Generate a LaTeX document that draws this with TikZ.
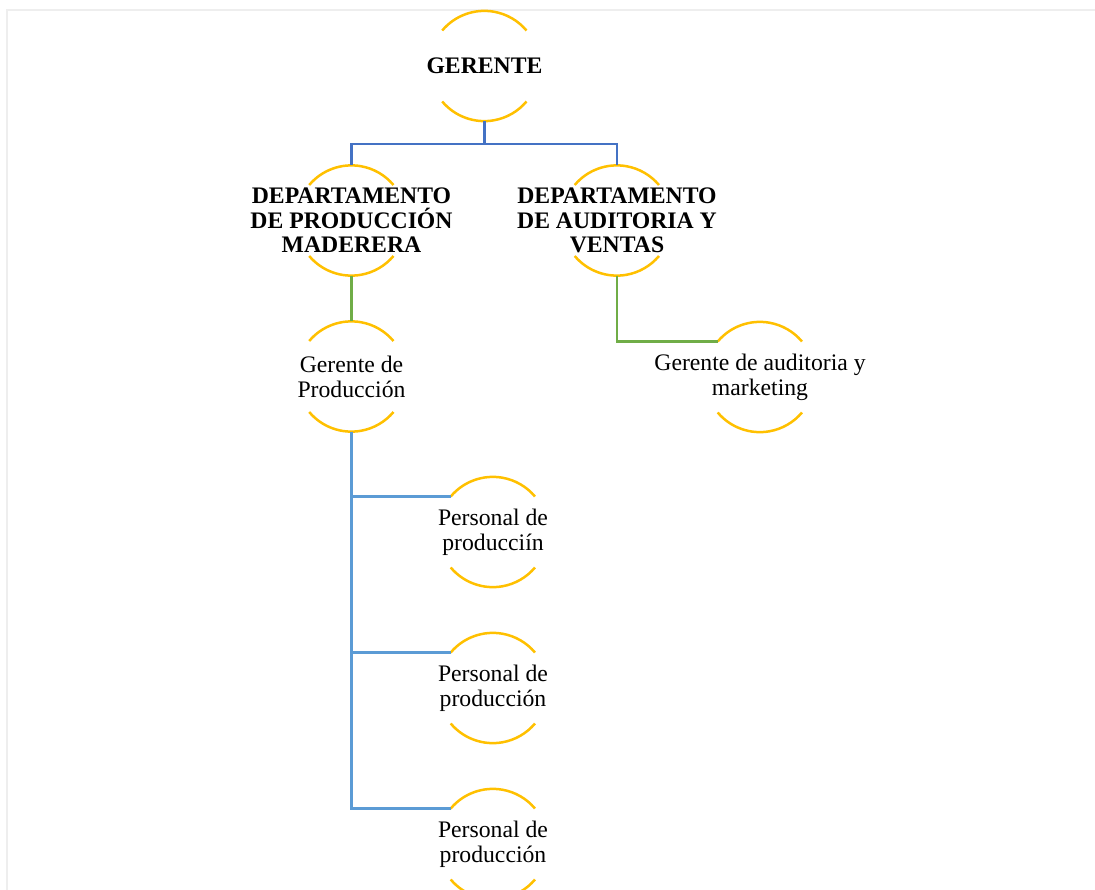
\documentclass[tikz,border=0pt]{standalone}
\usepackage{fontspec}
\setmainfont{Liberation Serif}
\definecolor{gold}{HTML}{FFC000}
\definecolor{darkblue}{HTML}{4472C4}
\definecolor{lightblue}{HTML}{5B9BD5}
\definecolor{leafgreen}{HTML}{70AD47}
\definecolor{framegray}{HTML}{EEEEEE}
\begin{document}
\begin{tikzpicture}[x=1bp,y=1bp,
  ring/.style={circle, minimum size=110bp, inner sep=0pt, draw=none},
  txt/.style={align=center, inner sep=0pt, font=\fontsize{23.7bp}{24.8bp}\selectfont},
  btxt/.style={txt, font=\fontsize{23.7bp}{24.6bp}\selectfont\bfseries},
  arcline/.style={draw=gold, line width=2.5bp},
  topline/.style={draw=darkblue, line width=2.5bp},
  prodline/.style={draw=lightblue, line width=2.5bp},
  greenline/.style={draw=leafgreen, line width=2.5bp},
  framel/.style={draw=framegray, line width=2bp}]
\useasboundingbox (0,0) rectangle (1095,-890);
\draw[framel] (7,-890) -- (7,-10) -- (1095,-10);

% circles (invisible shapes, only top/bottom arcs drawn)
\node[ring] (gc)  at (484.5,-66) {};
\node[ring] (dlc) at (351.5,-220.5) {};
\node[ring] (drc) at (617,-220.5) {};
\node[ring] (gpc) at (351.5,-376.5) {};
\node[ring] (gac) at (760,-377) {};
\node[ring] (p1c) at (493,-532) {};
\node[ring] (p2c) at (493,-688) {};
\node[ring] (p3c) at (493,-844) {};

\foreach \c in {gc,dlc,drc,gpc,gac,p1c,p2c,p3c}{
  \draw[arcline] (\c.140) arc[start angle=140, end angle=40, radius=55];
  \draw[arcline] (\c.220) arc[start angle=220, end angle=320, radius=55];
}

% texts
\node[btxt] (g)  at (gc)  {GERENTE};
\node[btxt] (dl) at (dlc) {DEPARTAMENTO\\DE PRODUCCIÓN\\MADERERA};
\node[btxt] (dr) at (drc) {DEPARTAMENTO\\DE AUDITORIA Y\\VENTAS};
\node[txt]  (gp) at (gpc) {Gerente de\\Producción};
\node[txt]  (ga) at (gac) {Gerente de auditoria y\\marketing};
\node[txt]  (p1) at (p1c) {Personal de\\producciín};
\node[txt]  (p2) at (p2c) {Personal de\\producción};
\node[txt]  (p3) at (p3c) {Personal de\\producción};

% connectors
\draw[topline] (gc.south) -- ++(0,-23) -| (dlc.north);
\draw[topline] (gc.south) -- ++(0,-23) -| (drc.north);
\draw[greenline] (dlc.south) -- (gpc.north);
\draw[greenline] (drc.south) |- (gac.140);
\draw[prodline] (gpc.south) |- (p1c.140);
\draw[prodline] (gpc.south) |- (p2c.140);
\draw[prodline] (gpc.south) |- (p3c.140);
\end{tikzpicture}
\end{document}
